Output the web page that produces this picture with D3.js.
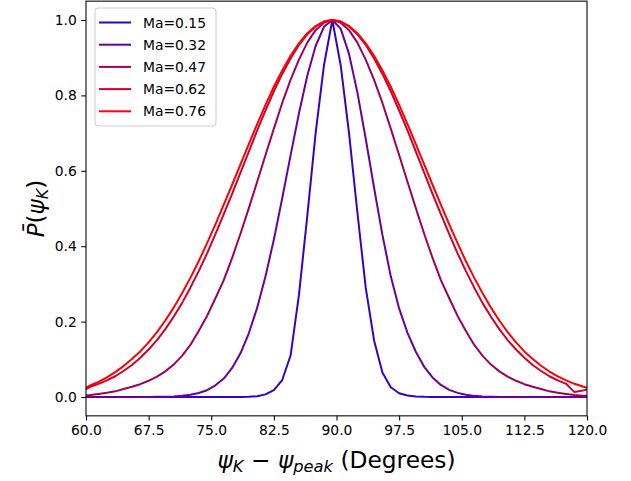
<!DOCTYPE html>
<html>
<head>
<meta charset="utf-8">
<script src="https://cdn.jsdelivr.net/npm/d3@7"></script>
<style>
  html, body { margin: 0; padding: 0; background: #fff; }
  svg { display: block; }
  text { font-family: "DejaVu Sans", sans-serif; fill: #000; }
</style>
</head>
<body>
<svg id="chart" width="631" height="481"></svg>
<script>
// ---- data ----
const xGrid = [60, 60.5, 61.5, 62.5, 63.5, 64.5, 65.5, 66.5, 67.5, 68.5, 69.5, 70.5, 71.5, 72.5, 73.5, 74.5,
  75.5, 76.5, 77.5, 78.5, 79.5, 80.5, 81.5, 82.5, 83.5, 84.5, 85.5, 86.5, 87.5, 88.5, 89.5,
  90.5, 91.5, 92.5, 93.5, 94.5, 95.5, 96.5, 97.5, 98.5, 99.5, 100.5, 101.5, 102.5, 103.5, 104.5,
  105.5, 106.5, 107.5, 108.5, 109.5, 110.5, 111.5, 112.5, 113.5, 114.5, 115.5, 116.5, 117.5, 118.5, 119.5, 120];

const machLabels = ["Ma=0.15", "Ma=0.32", "Ma=0.47", "Ma=0.62", "Ma=0.76"];
const machColors = ["#3300cc", "#6b0094", "#9e0061", "#d0002f", "#ff0000"];

const ma015 = [0,0,0,0,0,0,0,0,0,0, 0,0,0,0,0,0,0,0,0,0,
  0.0005,0.002,0.007,0.018,0.045,0.11,0.27,0.48,0.70,0.88,
  1,
  0.88,0.70,0.49,0.29,0.15,0.065,0.026,0.01,0.004,0.0015,
  0.0005,0,0,0,0,0,0,0,0,0, 0,0,0,0,0,0,0,0,0,0, 0];

const ma032 = [0,0,0,0,0,0,0,0.0001,0.0002,0.0004,
  0.0008,0.0016,0.0031,0.0058,0.0105,0.018,0.031,0.049,0.077,0.116,
  0.169,0.237,0.320,0.418,0.527,0.641,0.752,0.852,0.931,0.982,
  1,
  0.977,0.910,0.808,0.685,0.555,0.43,0.32,0.235,0.17,0.12,
  0.08,0.052,0.032,0.019,0.011,0.006,0.003,0.0015,0.0007,0.0003,
  0.0001,0,0,0,0,0,0,0,0,0, 0];

const ma047 = [0.004,0.005,0.008,0.011,0.015,0.021,0.027,0.034,0.043,0.054,
  0.068,0.086,0.109,0.138,0.175,0.215,0.262,0.310,0.369,0.433,
  0.501,0.571,0.642,0.712,0.780,0.841,0.895,0.940,0.973,0.993,
  1,
  0.993,0.973,0.940,0.895,0.841,0.780,0.712,0.642,0.571,0.501,
  0.433,0.369,0.310,0.262,0.215,0.175,0.138,0.109,0.086,0.068,
  0.054,0.043,0.034,0.027,0.021,0.015,0.011,0.008,0.005,0.003, 0.003];

const ma062 = [0.021,0.027,0.035,0.044,0.055,0.069,0.085,0.104,0.126,0.151,
  0.180,0.213,0.249,0.290,0.334,0.381,0.432,0.485,0.539,0.595,
  0.651,0.707,0.760,0.811,0.857,0.898,0.934,0.962,0.983,0.996,
  1,
  0.996,0.983,0.962,0.934,0.898,0.857,0.811,0.760,0.707,0.651,
  0.595,0.539,0.485,0.432,0.381,0.334,0.290,0.249,0.213,0.180,
  0.151,0.126,0.104,0.085,0.069,0.055,0.044,0.035,0.013,0.017, 0.020];

const ma076 = [0.025,0.031,0.040,0.052,0.066,0.082,0.101,0.121,0.145,0.172,
  0.203,0.237,0.275,0.316,0.360,0.408,0.458,0.510,0.563,0.617,
  0.671,0.724,0.775,0.823,0.866,0.905,0.938,0.965,0.984,0.996,
  1,
  0.996,0.984,0.965,0.938,0.905,0.866,0.823,0.775,0.724,0.671,
  0.617,0.563,0.510,0.458,0.408,0.360,0.316,0.275,0.237,0.203,
  0.172,0.145,0.121,0.101,0.0828,0.0676,0.0547,0.044,0.035,0.0277, 0.0245];

const seriesValues = [ma015, ma032, ma047, ma062, ma076];
const xTicks = [60, 67.5, 75, 82.5, 90, 97.5, 105, 112.5, 120];
const yTicks = [0, 0.2, 0.4, 0.6, 0.8, 1.0];

// ---- layout ----
const svg = d3.select("#chart");
const L = 86, R = 587, T = 1.15, B = 415.85;
const x = d3.scaleLinear().domain([60, 120]).range([L, R]);
const y = d3.scaleLinear().domain([-0.05, 1.05]).range([B, T]);

const plot = svg.append("g");
plot.append("clipPath").attr("id", "clip").append("rect")
  .attr("x", L).attr("y", T).attr("width", R - L).attr("height", B - T);

const line = d3.line().x((d, i) => x(xGrid[i])).y(d => y(d));
const lines = plot.append("g").attr("clip-path", "url(#clip)");
seriesValues.forEach((vals, k) => {
  lines.append("path").datum(vals)
    .attr("d", line)
    .attr("fill", "none")
    .attr("stroke", machColors[k])
    .attr("stroke-width", 2)
    .attr("stroke-linejoin", "round")
    .attr("stroke-linecap", "square");
});

// axes
const fmt1 = d3.format(".1f");
const xAxis = d3.axisBottom(x).tickValues(xTicks).tickFormat(fmt1).tickSize(4.67).tickPadding(4.5);
const yAxis = d3.axisLeft(y).tickValues(yTicks).tickFormat(fmt1).tickSize(4.67).tickPadding(4.5);
const gx = svg.append("g").attr("transform", `translate(0,${B})`).call(xAxis);
const gy = svg.append("g").attr("transform", `translate(${L},0)`).call(yAxis);
[gx, gy].forEach(g => {
  g.select(".domain").remove();
  g.selectAll(".tick line").attr("stroke", "#000").attr("stroke-width", 1.07);
  g.selectAll(".tick text").style("font-family", "DejaVu Sans").style("font-size", "13.89px").attr("fill", "#000");
});

// frame
svg.append("rect").attr("x", L).attr("y", T).attr("width", R - L).attr("height", B - T)
  .attr("fill", "none").attr("stroke", "#000").attr("stroke-width", 1.07);

// x label
const xl = svg.append("text").attr("x", (L + R) / 2).attr("y", 468)
  .attr("text-anchor", "middle").style("font-size", "23.3px");
xl.append("tspan").style("font-style", "italic").text("ψ");
xl.append("tspan").style("font-style", "italic").style("font-size", "16.3px").attr("dy", 4).text("K");
xl.append("tspan").attr("dy", -4).text(" − ");
xl.append("tspan").style("font-style", "italic").text("ψ");
xl.append("tspan").style("font-style", "italic").style("font-size", "16.3px").attr("dy", 4).text("peak");
xl.append("tspan").attr("dy", -4).text(" (Degrees)");

// y label
const yl = svg.append("text")
  .attr("transform", `translate(44,${(T + B) / 2}) rotate(-90)`)
  .attr("text-anchor", "middle").style("font-size", "23px");
yl.append("tspan").style("font-style", "italic").text("P\u0304");
yl.append("tspan").text("(");
yl.append("tspan").style("font-style", "italic").text("ψ");
yl.append("tspan").style("font-style", "italic").style("font-size", "16px").attr("dy", 4).text("K");
yl.append("tspan").attr("dy", -4).text(")");

// legend
const lg = svg.append("g");
lg.append("rect").attr("x", 95).attr("y", 8).attr("width", 121).attr("height", 118)
  .attr("rx", 3).attr("fill", "#fff").attr("fill-opacity", 0.8)
  .attr("stroke", "#cccccc").attr("stroke-width", 1);
machLabels.forEach((lab, k) => {
  const cy = 22.5 + k * 22.2;
  lg.append("line").attr("x1", 99).attr("x2", 131).attr("y1", cy).attr("y2", cy)
    .attr("stroke", machColors[k]).attr("stroke-width", 2);
  lg.append("text").attr("x", 143).attr("y", cy).attr("dy", "0.36em")
    .style("font-size", "13.89px").text(lab);
});
</script>
</body>
</html>
